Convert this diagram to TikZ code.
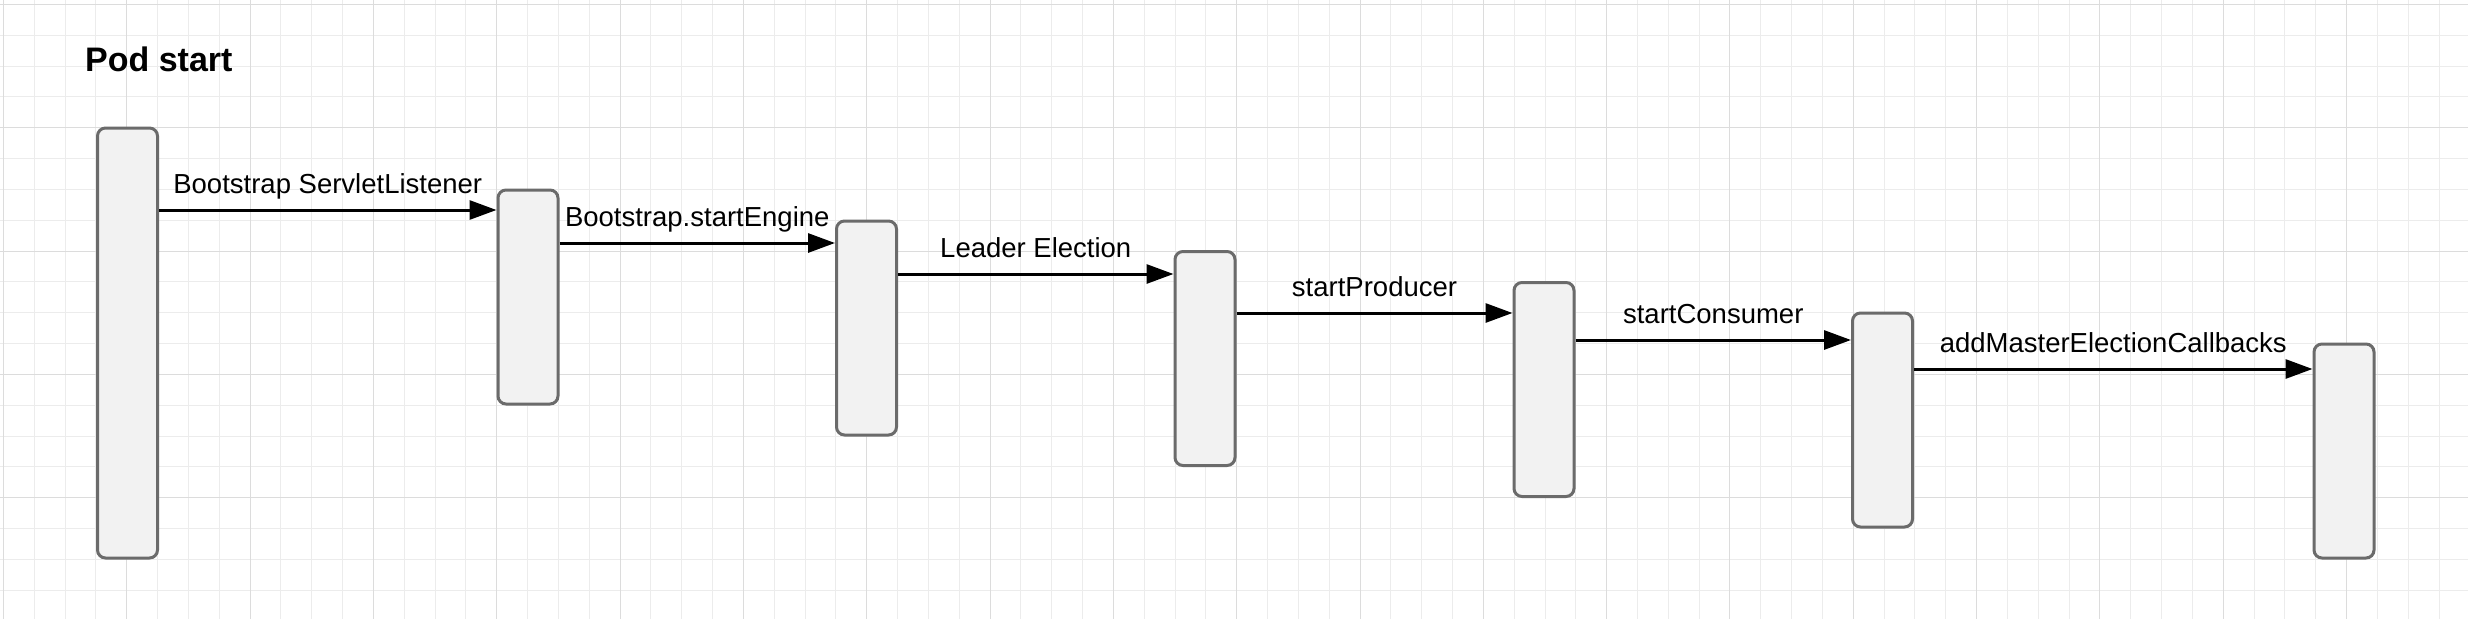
\documentclass[tikz,border=0pt]{standalone}
\usepackage{fontspec}
\setmainfont{Liberation Sans}
\usetikzlibrary{arrows.meta,positioning,calc}
\definecolor{cGrid}{HTML}{ECECEC}
\definecolor{cMaj} {HTML}{DCDCDC}
\definecolor{cBox} {HTML}{F2F2F2}
\definecolor{cEdge}{HTML}{6B6B6B}
\tikzset{
  lane/.style ={draw=cEdge,fill=cBox,line width=3pt,rounded corners=8pt,
                minimum width=60pt,inner sep=0pt},
  call/.style ={-{Triangle[length=27pt,width=19pt]},draw=black,line width=3pt},
  lbl/.style  ={font=\fontsize{27.5}{32}\selectfont,inner sep=0pt,anchor=base,
                yshift=17pt},
  ttl/.style  ={font=\bfseries\fontsize{34}{40}\selectfont,inner sep=0pt,
                anchor=base west},
}

\begin{document}
\begin{tikzpicture}[x=1pt, y=-1pt]
\fill[white] (0,0) rectangle (2468,619);
\useasboundingbox (0,0) rectangle (2468,619);

% background grid, snapped to whole pixels
\foreach \k in {0,...,79}
  \draw[cGrid,line width=1pt] ({round(3+30.83*\k)+0.5},0) -- ++(0,619);
\foreach \k in {0,...,19}
  \draw[cGrid,line width=1pt] (0,{round(4+30.83*\k)+0.5}) -- ++(2468,0);
\foreach \k in {0,...,19}
  \draw[cMaj,line width=1pt] ({round(3+123.32*\k)+0.5},0) -- ++(0,619);
\foreach \k in {0,...,4}
  \draw[cMaj,line width=1pt] (0,{round(4+123.32*\k)+0.5}) -- ++(2468,0);

\node[ttl] (title) at (85,71) {Pod start};

% one bar per stage
\node[lane,minimum height=430pt] (b1) at (127.5,343) {};
\node[lane,minimum height=214pt] (b2) at (528,297) {};
\node[lane,minimum height=214pt] (b3) at (866.5,328) {};
\node[lane,minimum height=214pt] (b4) at (1205,358.5) {};
\node[lane,minimum height=214pt] (b5) at (1544,389.5) {};
\node[lane,minimum height=214pt] (b6) at (1882.5,420) {};
\node[lane,minimum height=214pt] (b7) at (2344,451) {};

% calls between the stages
\draw[call] (b1.east |- 0,210) -- node[lbl]{Bootstrap ServletListener} (b2.west |- 0,210);
\draw[call] (b2.east |- 0,243) -- node[lbl]{Bootstrap.startEngine} (b3.west |- 0,243);
\draw[call] (b3.east |- 0,274) -- node[lbl]{Leader Election} (b4.west |- 0,274);
\draw[call] (b4.east |- 0,313) -- node[lbl]{startProducer} (b5.west |- 0,313);
\draw[call] (b5.east |- 0,340) -- node[lbl]{startConsumer} (b6.west |- 0,340);
\draw[call] (b6.east |- 0,369) -- node[lbl]{addMasterElectionCallbacks} (b7.west |- 0,369);
\end{tikzpicture}
\end{document}
